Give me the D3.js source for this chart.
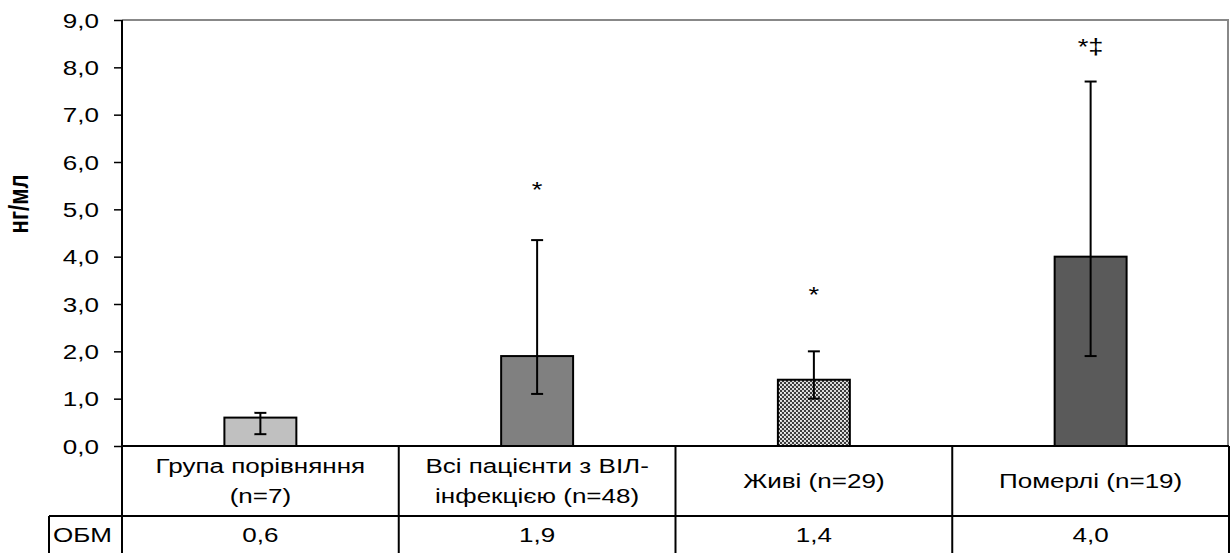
<!DOCTYPE html>
<html>
<head>
<meta charset="utf-8">
<script src="https://cdn.jsdelivr.net/npm/d3@7"></script>
<style>
  body { margin: 0; background: #fff; }
  svg text { font-family: "Liberation Sans", Arial, sans-serif; fill: #000; }
</style>
</head>
<body>
<div id="chart"></div>
<script>
// data
var groups = ["g1", "g2", "g3", "g4"];
var groupLabels = [["Група порівняння", "(n=7)"], ["Всі пацієнти з ВІЛ-", "інфекцією (n=48)"], ["Живі (n=29)"], ["Померлі (n=19)"]];
var obmValues = [0.6, 1.9, 1.4, 4.0];
var errLow = [0.25, 1.1, 1.0, 1.9];
var errHigh = [0.7, 4.35, 2.0, 7.7];
var marks = ["", "*", "*", "*‡"];
var markAt = [0, 5.51, 3.30, 8.54];
var yTicks = [0, 1, 2, 3, 4, 5, 6, 7, 8, 9];
var barFills = ["#c0c0c0", "#808080", "url(#dots)", "#5a5a5a"];
var rowName = "ОБМ";
var yTitle = "нг/мл";

var width = 1230, height = 553;
var margin = { top: 20, right: 1, bottom: 107, left: 122 };
var fs = 21, sx = 1.24; // text in the picture is stretched sideways

var svg = d3.select("#chart").append("svg")
  .attr("width", width)
  .attr("height", height);

// dotted fill for the third bar
var pat = svg.append("defs").append("pattern")
  .attr("id", "dots")
  .attr("width", 8).attr("height", 8)
  .attr("patternUnits", "userSpaceOnUse");
pat.append("rect").attr("width", 8).attr("height", 8).attr("fill", "#d8d8d8");
for (var i = 0; i < 4; i++) {
  for (var j = 0; j < 4; j++) {
    if ((i + j) % 2) pat.append("rect").attr("x", i * 2).attr("y", j * 2).attr("width", 2).attr("height", 2).attr("fill", "#3c3c3c");
  }
}
pat.append("rect").attr("x", 0).attr("y", 0).attr("width", 1).attr("height", 1).attr("fill", "#fff");
pat.append("rect").attr("x", 4).attr("y", 4).attr("width", 1).attr("height", 1).attr("fill", "#fff");

var x = d3.scaleBand()
  .domain(groups)
  .range([margin.left, width - margin.right])
  .padding(0);

var y = d3.scaleLinear()
  .domain([0, 9])
  .range([height - margin.bottom, margin.top]);

var fmt = function (v) { return d3.format(".1f")(v).replace(".", ","); };
var bw = x.bandwidth() * 0.26;
var y0 = y(0);

// plot frame (grey top and right)
svg.append("path")
  .attr("d", `M${margin.left},${y(9)}H${width - margin.right - 1}V${y0}`)
  .attr("fill", "none")
  .attr("stroke", "#888")
  .attr("stroke-width", 2);

// bars
svg.append("g")
  .selectAll("rect")
  .data(obmValues)
  .join("rect")
  .attr("x", (d, i) => x(groups[i]) + x.bandwidth() / 2 - bw / 2)
  .attr("y", d => y(d))
  .attr("width", bw)
  .attr("height", d => y0 - y(d))
  .attr("fill", (d, i) => barFills[i])
  .attr("stroke", "#000")
  .attr("stroke-width", 2);

// error bars
var err = svg.append("g").attr("stroke", "#000").attr("stroke-width", 2);
groups.forEach(function (g, i) {
  var cx = x(g) + x.bandwidth() / 2;
  err.append("line").attr("x1", cx).attr("x2", cx).attr("y1", y(errLow[i])).attr("y2", y(errHigh[i]));
  err.append("line").attr("x1", cx - 6).attr("x2", cx + 6).attr("y1", y(errLow[i])).attr("y2", y(errLow[i]));
  err.append("line").attr("x1", cx - 6).attr("x2", cx + 6).attr("y1", y(errHigh[i])).attr("y2", y(errHigh[i]));
});

// significance marks
svg.append("g")
  .selectAll("text")
  .data(marks)
  .join("text")
  .attr("text-anchor", "middle")
  .attr("font-size", fs + 1)
  .attr("transform", (d, i) => `translate(${x(groups[i]) + x.bandwidth() / 2},${y(markAt[i]) + 12}) scale(${sx},1)`)
  .text(d => d);

// y axis
function yAxis(g) {
  g.attr("transform", `translate(${margin.left},0)`)
    .call(d3.axisLeft(y).tickValues(yTicks).tickSize(8).tickFormat(fmt));
  g.select(".domain").remove();
  g.selectAll(".tick line").attr("stroke", "#000").attr("stroke-width", 1.5);
  g.selectAll(".tick text")
    .attr("x", 0)
    .attr("dy", null)
    .attr("dominant-baseline", "central")
    .attr("font-size", fs)
    .attr("font-family", null)
    .attr("transform", `translate(-23,0) scale(${sx},1)`);
}
svg.append("g").call(yAxis);

svg.append("text")
  .attr("transform", `translate(19,204) scale(${sx},1) rotate(-90)`)
  .attr("text-anchor", "middle")
  .attr("dominant-baseline", "central")
  .attr("font-weight", "bold")
  .attr("font-size", 22)
  .text(yTitle);

// data table under the plot
var rowTop = y0, rowMid = height - 37, tableBottom = height;
var grid = svg.append("g").attr("stroke", "#000").attr("stroke-width", 2).attr("fill", "none");
grid.append("line").attr("x1", margin.left).attr("x2", width - 1).attr("y1", y0).attr("y2", y0);
grid.append("line").attr("x1", 49).attr("x2", width - 1).attr("y1", rowMid).attr("y2", rowMid);
grid.append("line").attr("x1", margin.left).attr("x2", margin.left).attr("y1", margin.top).attr("y2", tableBottom);
grid.append("line").attr("x1", 49).attr("x2", 49).attr("y1", rowMid).attr("y2", tableBottom);
groups.forEach(function (g) {
  var xr = Math.min(x(g) + x.bandwidth(), width - 1);
  grid.append("line").attr("x1", xr).attr("x2", xr).attr("y1", rowTop).attr("y2", tableBottom);
});

var labels = svg.append("g").attr("font-size", fs);
groups.forEach(function (g, i) {
  var cx = x(g) + x.bandwidth() / 2;
  var lines = groupLabels[i];
  var c = (rowTop + rowMid) / 2;
  lines.forEach(function (t, k) {
    labels.append("text")
      .attr("text-anchor", "middle")
      .attr("dominant-baseline", "central")
      .attr("transform", `translate(${cx},${c + (k - (lines.length - 1) / 2) * 30}) scale(${sx},1)`)
      .text(t);
  });
  labels.append("text")
    .attr("text-anchor", "middle")
    .attr("dominant-baseline", "central")
    .attr("transform", `translate(${cx},${(rowMid + tableBottom) / 2}) scale(${sx},1)`)
    .text(fmt(obmValues[i]));
});
labels.append("text")
  .attr("dominant-baseline", "central")
  .attr("transform", `translate(53,${(rowMid + tableBottom) / 2}) scale(${sx},1)`)
  .text(rowName);
</script>
</body>
</html>
